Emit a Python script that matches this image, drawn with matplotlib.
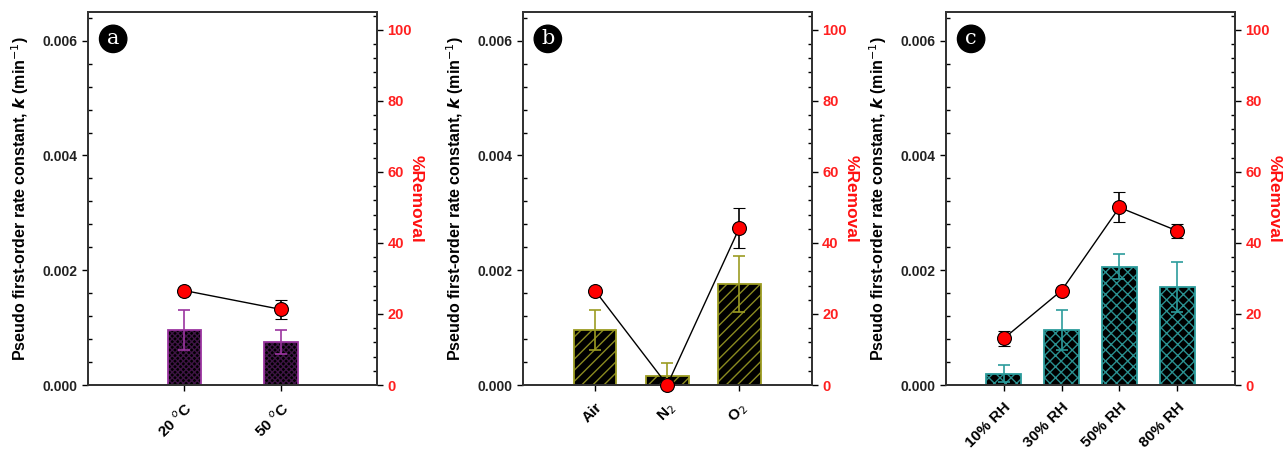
import matplotlib
matplotlib.use("Agg")
import matplotlib.pyplot as plt
from matplotlib.ticker import MultipleLocator, FormatStrFormatter

plt.rcParams['font.family'] = ['Liberation Sans', 'DejaVu Sans']
plt.rcParams['hatch.linewidth'] = 1.0

# panel a: temperature
temp_labels = ["20 $^{o}$C", "50 $^{o}$C"]
temp_k = [0.00096, 0.000755]
temp_k_err = [0.00035, 0.00021]
temp_removal = [26.6, 21.3]
temp_removal_err = [0.8, 2.7]

# panel b: gas
gas_labels = ["Air", "N$_2$", "O$_2$"]
gas_k = [0.00096, 0.00016, 0.00176]
gas_k_err = [0.00035, 0.00022, 0.00049]
gas_removal = [26.6, 0.0, 44.3]
gas_removal_err = [0.8, 0.0, 5.6]

# panel c: humidity
rh_labels = ["10% RH", "30% RH", "50% RH", "80% RH"]
rh_k = [0.0002, 0.00096, 0.00206, 0.00171]
rh_k_err = [0.00015, 0.00035, 0.00022, 0.00043]
rh_removal = [13.1, 26.6, 50.0, 43.4]
rh_removal_err = [2.2, 0.8, 4.2, 2.0]

# letter, data..., edge colour, hatch colour, hatch, bar width, axes left
panels = [
    ("a", temp_labels, temp_k, temp_k_err, temp_removal, temp_removal_err,
     "#9b35a0", "#3e1444", "xxxxxx", 0.35, 0.0686),
    ("b", gas_labels, gas_k, gas_k_err, gas_removal, gas_removal_err,
     "#9c9c22", "#8a8a20", "///", 0.59, 0.4074),
    ("c", rh_labels, rh_k, rh_k_err, rh_removal, rh_removal_err,
     "#2c9c9c", "#2a9090", "xxx", 0.61, 0.7373),
]

fig = plt.figure(figsize=(12.83, 4.5), dpi=100)

for letter, labels, k, k_err, rem, rem_err, edge, hcol, hatch, width, left in panels:
    ax = fig.add_axes([left, 0.1444, 0.2253, 0.8289])
    x = list(range(len(labels)))
    # hatched black fill, then the coloured outline on top
    ax.bar(x, k, width=width, color='black', edgecolor=hcol, hatch=hatch,
           linewidth=0, zorder=2)
    ax.bar(x, k, width=width, fill=False, edgecolor=edge, linewidth=1.3, zorder=2)
    ax.errorbar(x, k, yerr=k_err, fmt='none', ecolor=edge, elinewidth=1.2,
                capsize=4, capthick=1.2, zorder=3)
    ax.set_xlim(-1, len(labels))
    ax.set_ylim(0, 0.0065)
    ax.yaxis.set_major_locator(MultipleLocator(0.002))
    ax.yaxis.set_minor_locator(MultipleLocator(0.0004))
    ax.yaxis.set_major_formatter(FormatStrFormatter('%.3f'))
    ax.set_xticks(x)
    ax.set_xticklabels(labels, rotation=45, ha='right', rotation_mode='anchor',
                       fontsize=11, fontweight='bold')
    ax.tick_params(axis='y', which='major', direction='out', length=4, width=1,
                   labelsize=10, colors='black')
    ax.tick_params(axis='y', which='minor', direction='in', length=3, width=1)
    ax.tick_params(axis='x', which='major', direction='out', length=4, width=1, pad=7)
    for t in ax.get_yticklabels():
        t.set_fontweight('bold')
        t.set_color('#222222')
    for s in ax.spines.values():
        s.set_linewidth(1.3)
        s.set_color('#333333')
    ax.set_ylabel("Pseudo first-order rate constant, $\\boldsymbol{k}$ (min$^{-1}$)",
                  fontsize=11.5, fontweight='bold', labelpad=8)

    ax2 = ax.twinx()
    ax2.errorbar(x, rem, yerr=rem_err, fmt='-o', color='black', lw=1,
                 ecolor='black', elinewidth=1.2, capsize=4, capthick=1.2,
                 markersize=10, markerfacecolor='#ff0000',
                 markeredgecolor='black', markeredgewidth=0.8, zorder=4,
                 clip_on=False)
    ax2.set_ylim(0, 105)
    ax2.yaxis.set_major_locator(MultipleLocator(20))
    ax2.yaxis.set_minor_locator(MultipleLocator(4))
    ax2.tick_params(axis='y', which='major', direction='out', length=4, width=1,
                    labelsize=10.5, labelcolor='#ff2020')
    ax2.tick_params(axis='y', which='minor', direction='in', length=3, width=1)
    for t in ax2.get_yticklabels():
        t.set_fontweight('bold')
    ax2.set_ylabel("%Removal", color='#ff1010', fontsize=12.5, fontweight='bold',
                   rotation=270, va='center', ha='center')
    ax2.yaxis.set_label_coords(1.135, 0.5)
    for s in ax2.spines.values():
        s.set_linewidth(1.3)
        s.set_color('#333333')

    ax.text(0.087, 0.928, letter, transform=ax.transAxes, color='white',
            fontsize=15, family='DejaVu Serif', ha='center', va='center',
            bbox=dict(boxstyle='circle,pad=0.2', fc='black', ec='black'))

fig.savefig("out.png", dpi=100)
